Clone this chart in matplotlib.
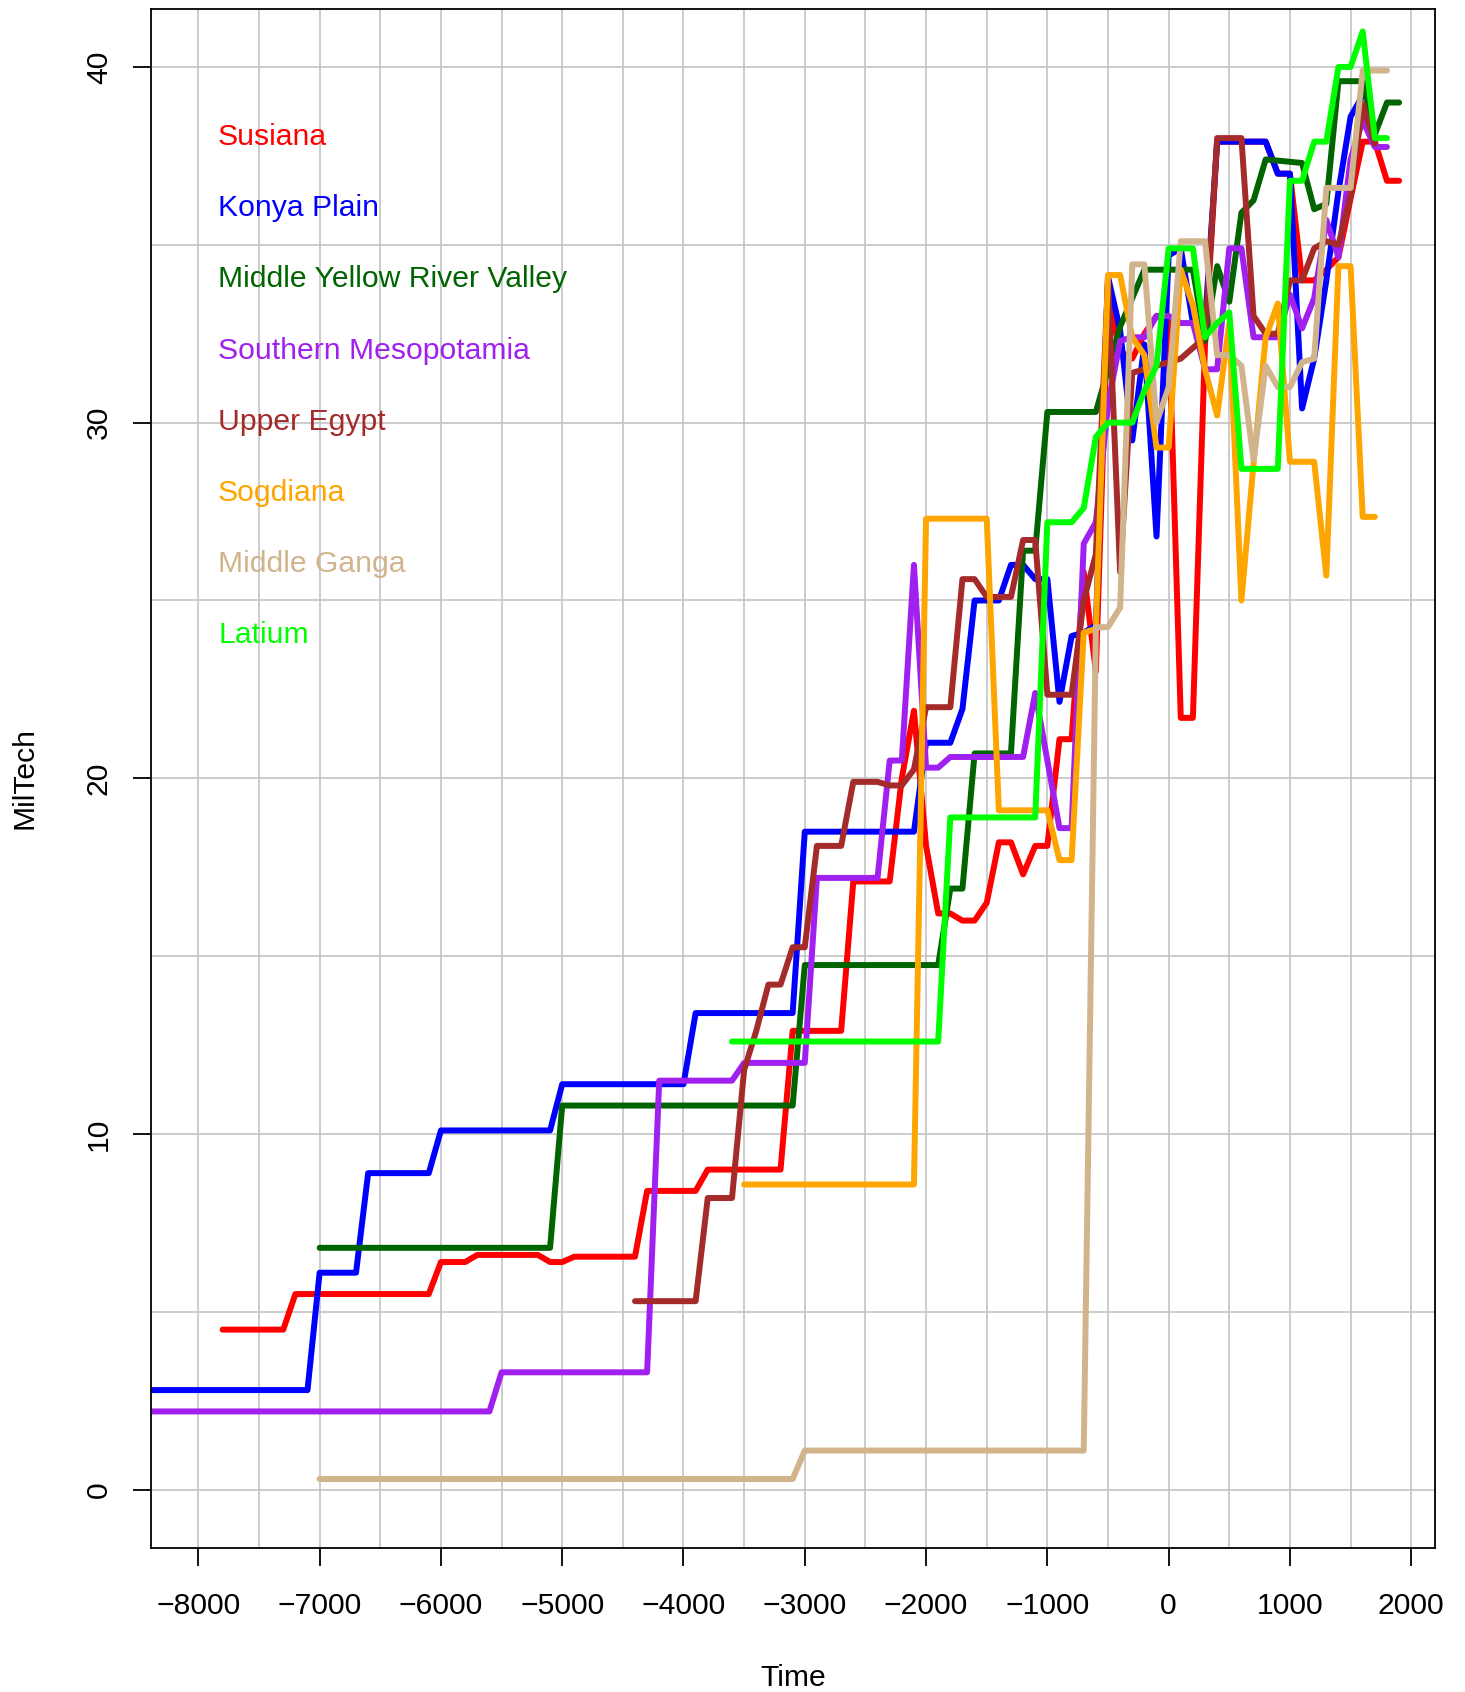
import numpy as np
import matplotlib.pyplot as plt

plt.rcParams['font.family'] = ['Liberation Sans', 'DejaVu Sans']

# values read at the corner points of each series (year, MilTech)
susiana_years = [-7800, -7300, -7200, -6100, -6000, -5800, -5700, -5200, -5100, -5000,
                 -4900, -4400, -4300, -3900, -3800, -3200, -3100, -2700, -2600, -2300,
                 -2200, -2100, -2000, -1900, -1800, -1700, -1600, -1500, -1400, -1300,
                 -1200, -1100, -1000, -900, -800, -700, -600, -500, -400, -300,
                 -200, -100, 0, 100, 200, 300, 400, 800, 900, 1000, 1100,
                 1200, 1300, 1400, 1500, 1600, 1700, 1800, 1900]
susiana_vals = [4.5, 4.5, 5.5, 5.5, 6.4, 6.4, 6.6, 6.6, 6.4, 6.4,
                6.55, 6.55, 8.4, 8.4, 9.0, 9.0, 12.9, 12.9, 17.1, 17.1,
                20.0, 21.9, 18.1, 16.2, 16.2, 16.0, 16.0, 16.5, 18.2, 18.2,
                17.3, 18.1, 18.1, 21.1, 21.1, 25.8, 23.0, 33.5, 32.0, 31.8,
                32.5, 33.0, 32.9, 21.7, 21.7, 32.2, 37.9, 37.9, 37.0, 37.0, 34.0,
                34.0, 34.3, 34.65, 36.3, 37.9, 37.9, 36.8, 36.8]

konya_years = [-8500, -7100, -7000, -6700, -6600, -6100, -6000, -5100, -5000, -4000,
               -3900, -3100, -3000, -2100, -2000, -1800, -1700, -1600, -1400, -1300,
               -1200, -1100, -1000, -900, -800, -700, -600, -500, -400, -300,
               -200, -100, 0, 100, 200, 300, 400, 800, 900, 1000,
               1100, 1200, 1300, 1400, 1500, 1600]
konya_vals = [2.8, 2.8, 6.1, 6.1, 8.9, 8.9, 10.1, 10.1, 11.4, 11.4,
              13.4, 13.4, 18.5, 18.5, 21.0, 21.0, 21.95, 25.0, 25.0, 26.0,
              26.0, 25.6, 25.6, 22.15, 24.0, 24.1, 24.3, 34.1, 32.6, 29.5,
              32.2, 26.8, 34.7, 34.9, 32.8, 32.8, 37.9, 37.9, 37.0, 37.0,
              30.4, 31.8, 34.0, 36.5, 38.6, 39.2]

yellow_years = [-7000, -5100, -5000, -3100, -3000, -1900, -1800, -1700, -1600, -1300,
                -1200, -1100, -1000, -600, -500, -400, -300, -200, 200, 300,
                400, 500, 600, 700, 800, 1100, 1200, 1300, 1400, 1600,
                1700, 1800, 1900]
yellow_vals = [6.8, 6.8, 10.8, 10.8, 14.75, 14.75, 16.9, 16.9, 20.7, 20.7,
               26.4, 26.4, 30.3, 30.3, 31.5, 32.7, 33.5, 34.3, 34.3, 32.3,
               34.4, 33.4, 35.9, 36.25, 37.4, 37.3, 36.0, 36.15, 39.6, 39.6,
               38.1, 39.0, 39.0]

meso_years = [-8500, -5600, -5500, -4300, -4200, -3600, -3500, -3000, -2900, -2400,
              -2300, -2200, -2100, -2000, -1900, -1800, -1200, -1100, -1000, -900,
              -800, -700, -600, -500, -400, -300, -200, -100, 0, 100,
              200, 300, 400, 500, 600, 700, 900, 1000, 1100, 1200,
              1300, 1400, 1500, 1600, 1700, 1800]
meso_vals = [2.2, 2.2, 3.3, 3.3, 11.5, 11.5, 12.0, 12.0, 17.2, 17.2,
             20.5, 20.5, 26.0, 20.3, 20.3, 20.6, 20.6, 22.4, 20.5, 18.6,
             18.6, 26.6, 27.2, 30.5, 32.3, 32.4, 32.4, 33.0, 33.0, 32.8,
             32.8, 31.5, 31.5, 34.9, 34.9, 32.4, 32.4, 33.6, 32.65, 33.5,
             35.7, 34.65, 37.4, 38.5, 37.75, 37.75]

egypt_years = [-4400, -3900, -3800, -3600, -3500, -3400, -3300, -3200, -3100, -3000,
               -2900, -2700, -2600, -2400, -2300, -2200, -2100, -2000, -1800, -1700,
               -1600, -1500, -1300, -1200, -1100, -1000, -800, -700, -600, -500,
               -400, -300, -100, 100, 300, 400, 600, 700, 800, 900,
               1000, 1100, 1200, 1300, 1400, 1500, 1600, 1700]
egypt_vals = [5.3, 5.3, 8.2, 8.2, 11.8, 12.9, 14.2, 14.2, 15.25, 15.25,
              18.1, 18.1, 19.9, 19.9, 19.8, 19.8, 20.25, 22.0, 22.0, 25.6,
              25.6, 25.1, 25.1, 26.7, 26.7, 22.35, 22.35, 25.0, 26.3, 34.0,
              25.8, 31.4, 31.6, 31.8, 32.4, 38.0, 38.0, 33.0, 32.5, 32.5,
              34.0, 34.0, 34.9, 35.1, 35.0, 36.4, 38.97, 37.84]

sogd_years = [-3500, -2100, -2000, -1500, -1400, -1000, -900, -800, -700, -600,
              -500, -400, -300, -200, -100, 0, 100, 200, 300, 400,
              500, 600, 700, 800, 900, 1000, 1200, 1300, 1400, 1500,
              1600, 1700]
sogd_vals = [8.58, 8.58, 27.3, 27.3, 19.1, 19.1, 17.7, 17.7, 24.1, 24.2,
             34.15, 34.15, 32.4, 31.9, 29.3, 29.3, 34.3, 33.3, 31.5, 30.2,
             32.8, 25.0, 28.85, 32.4, 33.35, 28.9, 28.9, 25.7, 34.4, 34.4,
             27.35, 27.35]

ganga_years = [-7000, -3100, -3000, -700, -600, -500, -400, -300, -200, -100,
               0, 100, 300, 400, 500, 600, 700, 800, 900, 1000,
               1100, 1200, 1300, 1500, 1600, 1800]
ganga_vals = [0.3, 0.3, 1.1, 1.1, 24.25, 24.25, 24.8, 34.45, 34.45, 30.0,
              31.0, 35.1, 35.1, 31.9, 31.9, 31.6, 28.95, 31.6, 31.0, 31.0,
              31.7, 31.8, 36.6, 36.6, 39.9, 39.9]

latium_years = [-3600, -1900, -1800, -1100, -1000, -800, -700, -600, -500, -300,
                -200, -100, 0, 200, 300, 400, 500, 600, 900, 1000,
                1100, 1200, 1300, 1400, 1500, 1600, 1700, 1800]
latium_vals = [12.6, 12.6, 18.9, 18.9, 27.2, 27.2, 27.6, 29.6, 30.0, 30.0,
               30.9, 31.6, 34.9, 34.9, 32.4, 32.8, 33.1, 28.7, 28.7, 36.8,
               36.8, 37.9, 37.9, 40.0, 40.0, 41.0, 38.0, 38.0]

names = ["Susiana", "Konya Plain", "Middle Yellow River Valley", "Southern Mesopotamia",
         "Upper Egypt", "Sogdiana", "Middle Ganga", "Latium"]
colors = ["#FF0000", "#0000FF", "#006400", "#A020F0",
          "#A52A2A", "#FFA500", "#D2B48C", "#00FF00"]
series = [(susiana_years, susiana_vals), (konya_years, konya_vals),
          (yellow_years, yellow_vals), (meso_years, meso_vals),
          (egypt_years, egypt_vals), (sogd_years, sogd_vals),
          (ganga_years, ganga_vals), (latium_years, latium_vals)]

fig = plt.figure(figsize=(14.65, 16.92), dpi=100)
ax = fig.add_axes([0.1031, 0.0851, 0.8765, 0.9098])

# grid like R's grid()
for gx in np.arange(-8000, 2001, 500):
    ax.axvline(gx, color="#c4c4c4", lw=1.2, zorder=0)
for gy in np.arange(0, 41, 5):
    ax.axhline(gy, color="#c4c4c4", lw=1.2, zorder=0)

for (yrs, vals), c in zip(series, colors):
    ax.plot(yrs, vals, color=c, lw=4.3, solid_capstyle='round',
            solid_joinstyle='round', zorder=2)

ax.set_xlim(-8390, 2197)
ax.set_ylim(-1.64, 41.64)
ax.set_xticks(np.arange(-8000, 2001, 1000))
ax.set_yticks([0, 10, 20, 30, 40])
ax.set_yticklabels(['0', '10', '20', '30', '40'], rotation=90, va='center')
ax.tick_params(axis='both', labelsize=21.7, length=13, width=1.3, color='black')
ax.tick_params(axis='x', pad=19)
ax.tick_params(axis='y', pad=14.5)
for s in ax.spines.values():
    s.set_linewidth(1.3)

for i, (n, c) in enumerate(zip(names, colors)):
    ax.text(0.0522, 0.9166 - i * 0.04626, n, color=c, fontsize=21.7,
            ha='left', va='center', transform=ax.transAxes)

fig.text(0.5413, 0.0081, "Time", fontsize=21.7, ha='center', va='center')
fig.text(0.0164, 0.540, "MilTech", fontsize=21.7, ha='center', va='center', rotation=90)

plt.savefig("out.png")
